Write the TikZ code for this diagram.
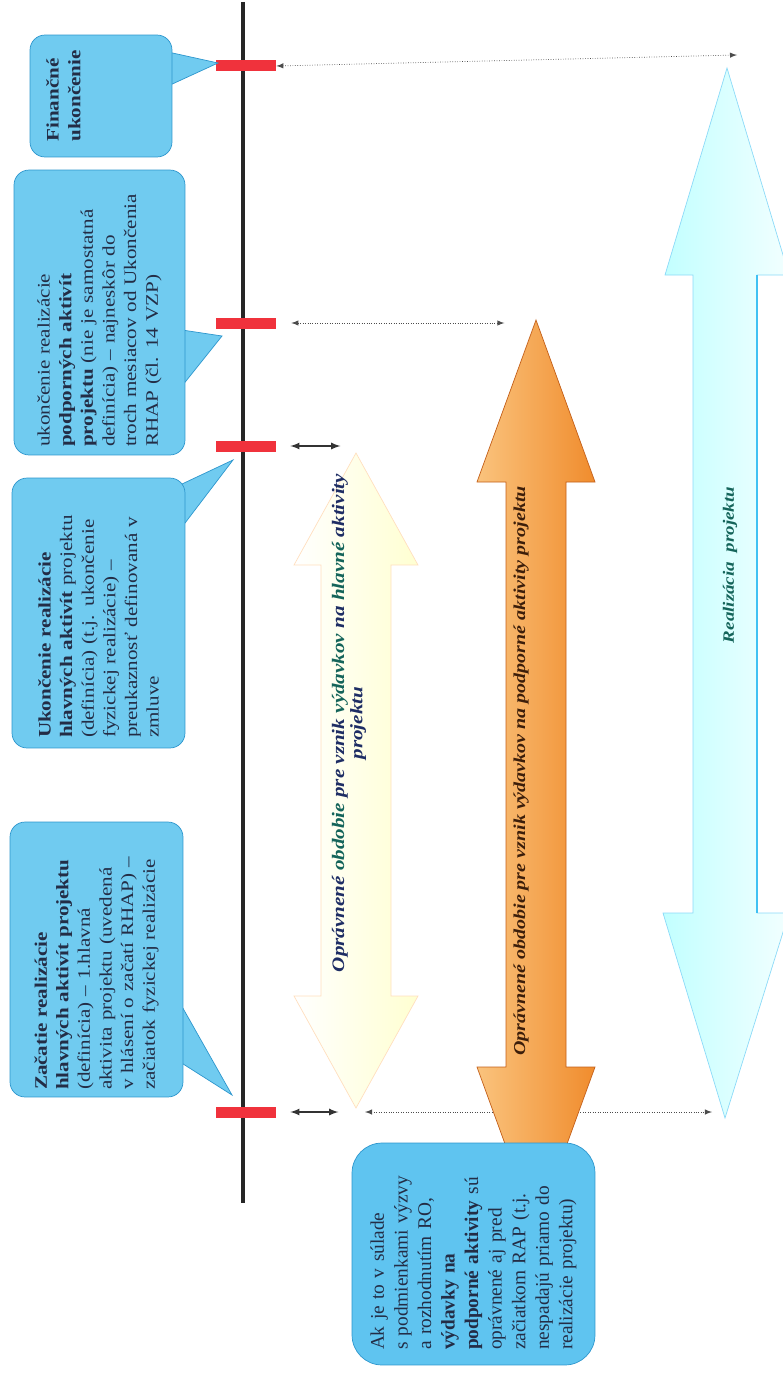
\documentclass[tikz,border=0pt]{standalone}
\usepackage{fontspec}
\setmainfont{Liberation Serif}
\newfontfamily\wideserif{Liberation Serif}[FakeStretch=1.2]
\usetikzlibrary{arrows}
\definecolor{callBlue}{RGB}{112,203,240}
\definecolor{callEdge}{RGB}{45,150,205}
\definecolor{noteBlue}{RGB}{95,196,240}
\definecolor{callText}{RGB}{35,45,70}
\definecolor{tickRed}{RGB}{240,50,60}
\definecolor{navyText}{RGB}{30,45,100}
\definecolor{tealText}{RGB}{20,100,90}
\definecolor{brownText}{RGB}{60,30,10}

\begin{document}
\begin{tikzpicture}[x=0.02cm,y=-0.02cm,>=latex]
\tikzstyle{bubble}=[rectangle,rounded corners=0.3cm,fill=callBlue,draw=callEdge,rotate=90,align=left,inner sep=0.16cm,text=callText,font=\wideserif\fontsize{10}{12.3}\selectfont]
\tikzstyle{note}=[bubble,rounded corners=0.6cm,fill=noteBlue,font=\fontsize{11}{13.4}\selectfont]
\tikzstyle{tail}=[fill=callBlue,draw=callEdge]
\tikzstyle{tick}=[rectangle,fill=tickRed,minimum width=1.2cm,minimum height=0.22cm,inner sep=0pt]
\tikzstyle{period}=[<->,line width=0.8pt,black!80]
\tikzstyle{gap}=[<->,densely dotted,gray!60!black]
\tikzstyle{label}=[rotate=90,align=center,inner sep=0pt,font=\wideserif\bfseries\itshape]

\useasboundingbox (0,0) rectangle (782,1375);

%big arrows.
\shade[left color=cyan!24,right color=cyan!5,draw=cyan!45] (727,68) -- (789,275) -- (757,275) -- (757,913) -- (789,913) -- (725,1118) -- (663,913) -- (693,913) -- (693,275) -- (665,275) -- cycle;
\draw[cyan!75,line width=1pt] (757,275) -- (757,913);
\node[label,text=tealText,font=\wideserif\bfseries\itshape\fontsize{9}{10}\selectfont] (lblReal) at (730,565) {Realizácia\ \ projektu};

\shade[left color=white,right color=yellow!18,draw=orange!25] (356,453) -- (418,565) -- (391,565) -- (391,996) -- (418,996) -- (356,1108) -- (294,996) -- (321,996) -- (321,565) -- (294,565) -- cycle;
\node[label,text=navyText,font=\wideserif\bfseries\itshape\fontsize{10}{10.5}\selectfont] (lblMain) at (349,723)
  {Oprávnené \textcolor{tealText}{obdobie} pre vznik \textcolor{tealText}{výdavkov} na \textcolor{tealText}{hlavné} aktivity\\projektu};

\coordinate (lineTop) at (243,2);
\coordinate (lineBot) at (243,1203);
\coordinate (bAbove) at (737,55);
\coordinate (gapL) at (365,1112);
\coordinate (gapR) at (712,1112);

\draw[gap] (gapL) -- (gapR);

\shade[left color={rgb,255:red,250;green,195;blue,125},right color={rgb,255:red,240;green,140;blue,45},draw={rgb,255:red,195;green,95;blue,25}] (536,320) -- (595,482) -- (566,482) -- (566,1067) -- (595,1067) -- (536,1229) -- (477,1067) -- (506,1067) -- (506,482) -- (477,482) -- cycle;
\node[label,text=brownText,font=\wideserif\bfseries\itshape\fontsize{9.5}{10}\selectfont] (lblSupp) at (521,771)
  {Oprávnené obdobie pre vznik výdavkov na podporné aktivity projektu};

%time line.
\draw[line width=0.08cm,black!85] (lineTop) -- (lineBot);
\node[tick] (tFinEnd)  at (246,66) {};
\node[tick] (tEndSupp) at (246,323) {};
\node[tick] (tEndMain) at (246,446) {};
\node[tick] (tStart)   at (246,1112) {};

\draw[period] ([xshift=0.28cm]tStart.east) -- ++(48,0);
\draw[period] ([xshift=0.28cm]tEndMain.east) -- ++(50,0);
\draw[gap] ([xshift=0.3cm]tEndSupp.east) -- ++(213,0);
\draw[gap] (tFinEnd.east) -- (bAbove);

%callouts.
\filldraw[tail] (168,52) -- (218,63) -- (168,86) -- cycle;
\filldraw[tail] (182,330) -- (222,336) -- (182,386) -- cycle;
\filldraw[tail] (182,484) -- (233,460) -- (182,527) -- cycle;
\filldraw[tail] (180,1003) -- (232,1095) -- (180,1062) -- cycle;

\node[bubble,minimum width=2.44cm,minimum height=2.84cm] (finBox) at (101,96) {};
\node[rotate=90,anchor=north west,align=left,inner sep=0pt,text=callText,font=\wideserif\fontsize{10}{12.3}\selectfont] (finText) at (46,142)
  {\textbf{Finančné}\\\textbf{ukončenie}};

\node[bubble,minimum width=5.7cm,minimum height=3.42cm,text width=5.38cm] (endSupp) at (99.5,312.5)
  {ukončenie realizácie\\\textbf{podporných aktivít}\\\textbf{projektu} (nie je samostatná\\definícia) – najneskôr do\\troch mesiacov od Ukončenia\\RHAP (čl. 14 VZP)};

\node[bubble,minimum width=5.4cm,minimum height=3.46cm,text width=5.0cm,inner xsep=0.2cm] (endMain) at (98.5,613)
  {\textbf{Ukončenie realizácie}\\\textbf{hlavných aktivít} projektu\\(definícia) (t.j. ukončenie\\fyzickej realizácie) –\\preukaznosť definovaná v\\zmluve};

\node[bubble,minimum width=5.5cm,minimum height=3.46cm,text width=5.22cm,inner xsep=0.14cm] (startMain) at (96.5,959.5)
  {\textbf{Začatie realizácie}\\\textbf{hlavných aktivít projektu}\\(definícia) – 1.hlavná\\aktivita projektu (uvedená\\v hlásení o začatí RHAP) –\\začiatok fyzickej realizácie};

\node[note,minimum width=4.44cm,minimum height=4.86cm,text width=3.84cm,inner xsep=0.3cm] (suppNote) at (473.5,1254)
  {Ak je to v súlade\\s podmienkami výzvy\\a rozhodnutím RO,\\\textbf{výdavky na}\\\textbf{podporné aktivity} sú\\oprávnené aj pred\\začiatkom RAP (t.j.\\nespadajú priamo do\\realizácie projektu)};

\end{tikzpicture}
\end{document}
